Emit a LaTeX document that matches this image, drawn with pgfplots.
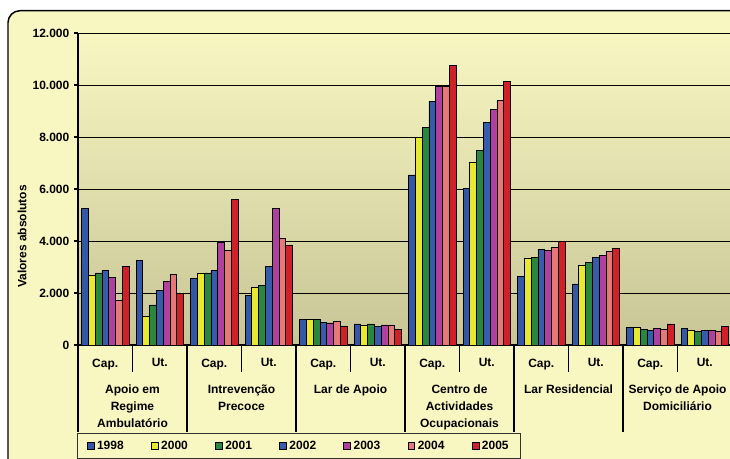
\documentclass[border=0pt]{standalone}
\usepackage{fontspec}
\setmainfont{Liberation Sans}
\usepackage{pgfplots}
\usepackage{pgfplotstable}
\pgfplotsset{compat=1.18}

\definecolor{bgA}{RGB}{248,247,194}
\definecolor{bgB}{RGB}{200,197,150}
\definecolor{c98}{RGB}{52,87,168}
\definecolor{c00}{RGB}{232,232,48}
\definecolor{c01}{RGB}{42,135,62}
\definecolor{c02}{RGB}{56,92,172}
\definecolor{c03}{RGB}{176,64,160}
\definecolor{c04}{RGB}{232,120,120}
\definecolor{c05}{RGB}{208,32,40}

% capacidade / utentes por resposta social
\pgfplotstableread{
cat y1998 y2000 y2001 y2002 y2003 y2004 y2005
0  5250 2680 2770 2860 2600 1720 3030
1  3250 1110 1540 2100 2430 2730 2000
2  2560 2770 2770 2870 3930 3640 5600
3  1920 2220 2300 3030 5260 4090 3850
4  970  970  970  860  850  900  720
5  810  770  810  720  770  770  590
6  6540 8000 8380 9370 9950 9950 10760
7  6010 7010 7470 8550 9060 9410 10140
8  2640 3320 3370 3680 3630 3760 3990
9  2350 3070 3170 3370 3460 3590 3720
10 680  680  590  550  630  590  810
11 640  550  510  550  550  510  720
}\datatable

\newcommand\lbl{\fontsize{9}{12.75}\selectfont\bfseries}

\begin{document}
\begin{tikzpicture}
\useasboundingbox (0,0) rectangle (547.5pt,-343.5pt);
\clip (0,0) rectangle (547.5pt,-343.5pt);
\fill[white] (0,0) rectangle (547.5pt,-343.5pt);
\draw[fill=bgA, line width=1.1pt, rounded corners=9pt] (6pt,-8pt) rectangle (600pt,-400pt);

\begin{axis}[
  at={(58.5pt,-258.75pt)}, anchor=south west,
  scale only axis, width=490.5pt, height=234pt,
  xmin=-0.5, xmax=11.5, ymin=0, ymax=12000,
  ybar=0pt, bar width=5.08pt,
  clip=false,
  axis lines*=left,
  axis line style={line width=1.6pt},
  axis background/.style={top color=bgA, bottom color=bgB},
  scaled y ticks=false,
  ytick={0,2000,4000,6000,8000,10000,12000},
  yticklabels={0,2.000,4.000,6.000,8.000,10.000,12.000},
  ymajorgrids, grid style={black, line width=0.6pt},
  tick align=outside, major tick length=3pt,
  ytick style={black, line width=1pt},
  xtick={0,...,11},
  xticklabels={Cap.,Ut.,Cap.,Ut.,Cap.,Ut.,Cap.,Ut.,Cap.,Ut.,Cap.,Ut.},
  xtick style={draw=none},
  tick label style={font=\lbl},
  x tick label style={yshift=-3.75pt},
  extra x ticks={0.5,2.5,4.5,6.5,8.5,10.5},
  extra x tick labels={
    {Apoio em\\Regime\\Ambulatório},
    {Intrevenção\\Precoce},
    {Lar de Apoio},
    {Centro de\\Actividades\\Ocupacionais},
    {Lar Residencial},
    {Serviço de Apoio\\Domiciliário}},
  extra x tick style={grid=none, xtick style={draw=none},
    x tick label style={yshift=-19.75pt, align=center}},
  ylabel={Valores absolutos},
  ylabel style={at={(axis description cs:-0.0856,0.348)}, anchor=center, font=\lbl},
  legend columns=7,
  legend image code/.code={\draw[#1, line width=0.5pt] (0pt,-2.6pt) rectangle (5.2pt,2.6pt);},
  legend style={at={(axis description cs:0,0)}, anchor=north west,
    yshift=-66pt, xshift=-0.75pt, fill=bgA, draw=black!80, line width=0.6pt,
    inner xsep=7pt, inner ysep=3.5pt,
    font=\lbl, /tikz/every even column/.append style={column sep=18.4pt}},
]
\addplot[fill=c98, draw=black, line width=0.5pt] table[x=cat,y=y1998]{\datatable};
\addplot[fill=c00, draw=black, line width=0.5pt] table[x=cat,y=y2000]{\datatable};
\addplot[fill=c01, draw=black, line width=0.5pt] table[x=cat,y=y2001]{\datatable};
\addplot[fill=c02, draw=black, line width=0.5pt] table[x=cat,y=y2002]{\datatable};
\addplot[fill=c03, draw=black, line width=0.5pt] table[x=cat,y=y2003]{\datatable};
\addplot[fill=c04, draw=black, line width=0.5pt] table[x=cat,y=y2004]{\datatable};
\addplot[fill=c05, draw=black, line width=0.5pt] table[x=cat,y=y2005]{\datatable};
\legend{1998,2000,2001,2002,2003,2004,2005}

% separadores da tabela de categorias
\pgfplotsinvokeforeach{-0.5,1.5,3.5,5.5,7.5,9.5,11.5}{
  \draw[line width=1.2pt] (axis cs:#1,0) -- ++(0pt,-65.25pt);}
\pgfplotsinvokeforeach{0.5,2.5,4.5,6.5,8.5,10.5}{
  \draw[line width=1.2pt] (axis cs:#1,0) -- ++(0pt,-20.25pt);}
\end{axis}
\end{tikzpicture}
\end{document}
